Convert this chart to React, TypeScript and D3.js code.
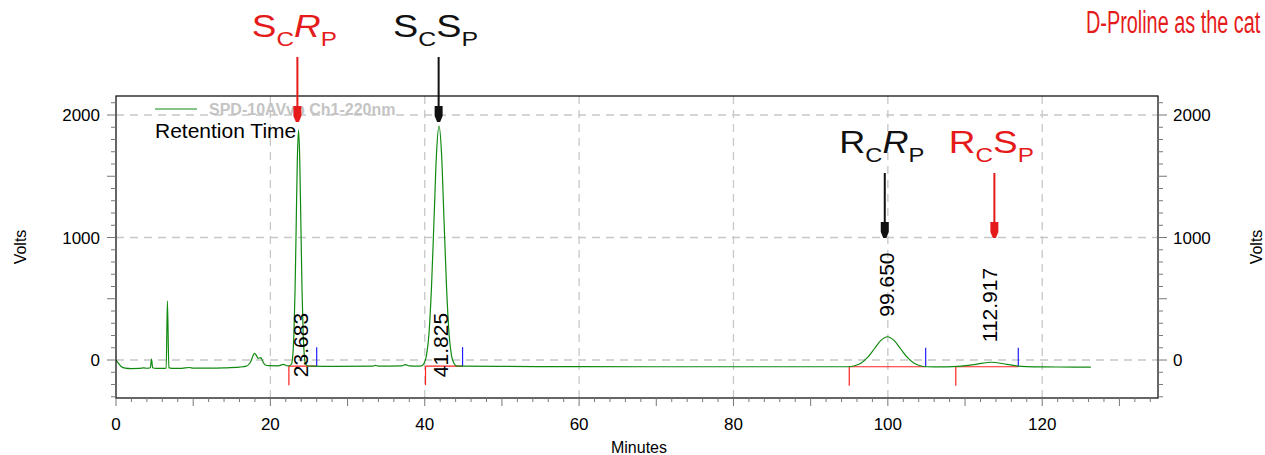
import React from "react";
import * as d3 from "d3";

// ---------- data ----------
const xDomain: [number, number] = [0, 135];
const yDomain: [number, number] = [-310, 2155];
const xTickLabels = [0, 20, 40, 60, 80, 100, 120];
const yTickLabels = [0, 1000, 2000];

// chromatogram trace [minutes, volts]
const trace: [number, number][] = [
  [0, 0], [0.3, -25], [0.7, -55], [1.2, -66], [2, -70], [3, -69], [3.6, -64], [4.0, -67],
  [4.45, -63], [4.6, 8], [4.75, -63], [5.2, -68], [6.0, -69], [6.5, -67], [6.66, 482],
  [6.85, -62], [7.2, -68], [8.5, -68], [9.5, -61], [10, -66], [12, -66], [14, -64],
  [16, -58], [16.9, -50], [17.4, -20], [17.95, 55], [18.2, 36], [18.4, 14], [18.77, 20],
  [19.0, -10], [19.3, -38], [19.8, -46], [21, -47], [21.7, -36], [22.1, -47],
  [22.4, -48], [22.75, -30], [23.05, 211], [23.2, 576], [23.35, 1119], [23.5, 1651],
  [23.65, 1877], [23.8, 1651], [23.95, 1119], [24.1, 576], [24.25, 211], [24.55, -30],
  [24.9, -49], [25.5, -50], [28, -52], [33.3, -50], [33.6, -44], [34, -50], [37, -48],
  [37.5, -37], [38, -48], [39.0, -50],
  [39.57, -48], [39.9, -28], [40.22, 36], [40.55, 215], [40.87, 587], [41.2, 1140],
  [41.52, 1680], [41.85, 1910], [42.18, 1680], [42.5, 1140], [42.83, 587], [43.15, 215],
  [43.47, 36], [43.8, -28], [44.12, -48], [44.6, -50], [50, -52], [60, -54], [70, -55],
  [80, -55], [90, -55], [94.85, -55],
  [95.7, -47], [96.55, -24], [97.4, 23], [98.25, 92], [99.1, 160], [99.95, 190],
  [100.8, 160], [101.65, 92], [102.5, 23], [103.35, -24], [104.2, -47], [105.05, -55],
  [106, -56], [107.5, -56], [109.5, -50], [111.4, -35], [113.4, -18], [115.4, -35],
  [117.2, -52], [119, -56], [122, -57], [126.3, -58],
];

// integration marks: start, end (min), baseline value
const integStart = [22.4, 40.1, 95.0, 108.8];
const integEnd = [26.0, 44.9, 104.9, 116.9];
const integBase = [-50, -50, -55, -55];

// retention time labels
const rtTimes = [23.683, 41.825, 99.65, 112.917];
const rtText = ["23.683", "41.825", "99.650", "112.917"];
const peakApex = [1877, 1910, 190, -18];

// stereo annotations
const stereoMain1 = ["S", "S", "R", "R"];
const stereoSub1 = ["C", "C", "C", "C"];
const stereoMain2 = ["R", "S", "R", "S"];
const stereoSub2 = ["P", "P", "P", "P"];
const stereoTime = [23.5, 41.8, 99.6, 113.8];
const stereoTip = [1943, 1943, 996, 996];
const stereoRed = [true, false, false, true];

const legendText = "SPD-10AVvp Ch1-220nm";
const noteText = "D-Proline as the cat";

// ---------- chart ----------
const W = 1265;
const H = 455;
const L = 116, R = 1158, T = 96, B = 398;
const RED = "#e51b1b";
const GREEN = "#108a10";
const FONT = "'Liberation Sans', Arial, Helvetica, sans-serif";

export default function App() {
  const x = d3.scaleLinear().domain(xDomain).range([L, R]);
  const y = d3.scaleLinear().domain(yDomain).range([B, T]);
  const line = d3
    .line<[number, number]>()
    .x((d) => x(d[0]))
    .y((d) => y(d[1]))
    .curve(d3.curveMonotoneX);

  const xMinor = d3.range(0, 136, 2);
  const yMinor = d3.range(-300, 2101, 100);

  return (
    <svg
      width={W}
      height={H}
      style={{ position: "absolute", left: 0, top: 0, background: "#fff" }}
      fontFamily={FONT}
    >
      <rect x={0} y={0} width={W} height={H} fill="#fff" />
      {/* grid */}
      {xTickLabels.filter((v) => v > 0).map((v) => (
        <line key={"gx" + v} x1={x(v)} x2={x(v)} y1={T} y2={B} stroke="#c8c8c8" strokeWidth={1.3} strokeDasharray="8,6" />
      ))}
      {yTickLabels.map((v) => (
        <line key={"gy" + v} x1={L} x2={R} y1={y(v)} y2={y(v)} stroke="#c8c8c8" strokeWidth={1.3} strokeDasharray="8,6" />
      ))}

      {/* integration marks */}
      {integStart.map((s, i) => (
        <g key={"ig" + i}>
          <line x1={x(s)} x2={x(integEnd[i])} y1={y(integBase[i])} y2={y(integBase[i])} stroke="#ff2020" strokeWidth={1.2} />
          <line x1={x(s)} x2={x(s)} y1={y(integBase[i])} y2={y(integBase[i]) + 19} stroke="#ff2020" strokeWidth={1.2} />
          <line x1={x(integEnd[i])} x2={x(integEnd[i])} y1={y(integBase[i])} y2={y(integBase[i]) - 19} stroke="#2020ff" strokeWidth={1.2} />
        </g>
      ))}

      {/* trace */}
      <path d={line(trace) || ""} fill="none" stroke={GREEN} strokeWidth={1.2} />

      {/* legend */}
      <line x1={155} x2={197} y1={109} y2={109} stroke={GREEN} strokeWidth={1.2} />
      <text x={209} y={115} fontSize={16} fontWeight="bold" fill="#c4c4c4">{legendText}</text>
      <text x={155} y={138} fontSize={21} fill="#000">Retention Time</text>

      {/* retention time labels */}
      {rtTimes.map((t, i) => {
        const apexY = y(peakApex[i]);
        const len = 11 * rtText[i].length;
        const startY = apexY - 20 - len < T ? y(integBase[i]) + 11 : apexY - 20;
        const bx = x(t) + 9;
        return (
          <text key={"rt" + i} transform={`translate(${bx},${startY}) rotate(-90)`} fontSize={21} fill="#000">
            {rtText[i]}
          </text>
        );
      })}

      {/* axes box */}
      <rect x={L} y={T} width={R - L} height={B - T} fill="none" stroke="#000" strokeWidth={1.2} />

      {/* x ticks */}
      {xMinor.map((v) => (
        <line key={"xt" + v} x1={x(v)} x2={x(v)} y1={B} y2={B + (v % 10 === 0 ? 8 : 4)} stroke="#777" strokeWidth={1} />
      ))}
      {xTickLabels.map((v) => (
        <text key={"xl" + v} x={x(v)} y={430} fontSize={17} textAnchor="middle" fill="#000">{v}</text>
      ))}
      <text x={639} y={453} fontSize={16} textAnchor="middle" fill="#000">Minutes</text>

      {/* y ticks left and right */}
      {yMinor.map((v) => {
        const len = v % 500 === 0 ? 9 : 5;
        return (
          <g key={"yt" + v}>
            <line x1={L - len} x2={L} y1={y(v)} y2={y(v)} stroke="#777" strokeWidth={1} />
            <line x1={R} x2={R + len} y1={y(v)} y2={y(v)} stroke="#777" strokeWidth={1} />
          </g>
        );
      })}
      {yTickLabels.map((v) => (
        <g key={"yl" + v}>
          <text x={100} y={y(v) + 6} fontSize={17} textAnchor="end" fill="#000">{v}</text>
          <text x={1173} y={y(v) + 6} fontSize={17} textAnchor="start" fill="#000">{v}</text>
        </g>
      ))}
      <text transform={`translate(26,247) rotate(-90)`} fontSize={16} textAnchor="middle" fill="#000">Volts</text>
      <text transform={`translate(1262,247) rotate(-90)`} fontSize={16} textAnchor="middle" fill="#000">Volts</text>

      {/* stereo annotations with arrows */}
      {stereoTime.map((t, i) => {
        const ax = x(t);
        const tip = y(stereoTip[i]);
        const top = tip - 65;
        const col = stereoRed[i] ? RED : "#111";
        const base = top - 20;
        return (
          <g key={"st" + i}>
            <line x1={ax} x2={ax} y1={top} y2={tip - 12} stroke={col} strokeWidth={2} />
            <polygon
              points={[
                [ax - 4, tip - 16], [ax + 4, tip - 16], [ax + 4, tip - 6],
                [ax + 1.5, tip], [ax - 1.5, tip], [ax - 4, tip - 6],
              ].map((p) => p.join(",")).join(" ")}
              fill={col}
            />
            <text x={ax - 3} y={base} textAnchor="middle" fill={col} textLength={85} lengthAdjust="spacingAndGlyphs">
              <tspan fontSize={32}>{stereoMain1[i]}</tspan>
              <tspan fontSize={21} dy={9}>{stereoSub1[i]}</tspan>
              <tspan fontSize={32} dy={-9} fontStyle={stereoMain2[i] === "R" ? "italic" : "normal"}>{stereoMain2[i]}</tspan>
              <tspan fontSize={21} dy={9}>{stereoSub2[i]}</tspan>
            </text>
          </g>
        );
      })}

      <text transform="translate(1086,33) scale(0.64,1)" fontSize={31} fill={RED}>{noteText}</text>
    </svg>
  );
}
